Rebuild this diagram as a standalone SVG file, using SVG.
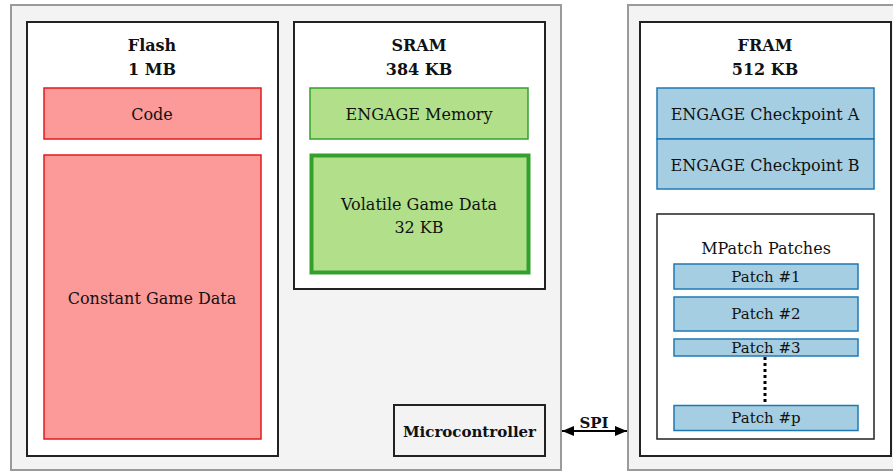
<svg xmlns="http://www.w3.org/2000/svg" width="893" height="472" viewBox="0 0 893 472">
<style>
text{font-family:"DejaVu Serif","Liberation Serif",serif;font-size:16px;fill:#111;text-anchor:middle}
.b{font-weight:bold}
.s{font-size:15px}
.outer{fill:#f3f3f3;stroke:#9a9a9a;stroke-width:2}
.mem{fill:#fff;stroke:#222;stroke-width:2}
.red{fill:#fb9a99;stroke:#e31a1c;stroke-width:1.5}
.green{fill:#b2df8a;stroke:#33a02c;stroke-width:1.5}
.blue{fill:#a6cee3;stroke:#1f78b4;stroke-width:1.5}
</style>
<defs>
<marker id="ah" viewBox="0 0 12 10" refX="12" refY="5" markerWidth="6.5" markerHeight="5" orient="auto-start-reverse"><path d="M0,0 L12,5 L0,10 z" fill="#000"/></marker>
</defs>
<rect class="outer" x="11" y="5" width="550" height="465"/>
<rect class="outer" x="628" y="5" width="275" height="465"/>
<g id="flash">
<rect class="mem" x="27" y="22" width="251" height="434"/>
<text class="b" x="152" y="51">Flash</text>
<text class="b" x="152" y="75">1 MB</text>
</g>
<g id="code"><rect class="red" x="44" y="88" width="217" height="51"/><text x="152" y="120">Code</text></g>
<g id="constant"><rect class="red" x="44" y="155" width="217" height="284"/><text x="152" y="304">Constant Game Data</text></g>
<g id="sram">
<rect class="mem" x="294" y="22" width="251" height="267"/>
<text class="b" x="419" y="51">SRAM</text>
<text class="b" x="419" y="75">384 KB</text>
</g>
<g id="engage-memory"><rect class="green" x="310" y="88" width="218" height="51"/><text x="419" y="120">ENGAGE Memory</text></g>
<g id="volatile"><rect class="green" x="311.5" y="155.5" width="217" height="117" style="stroke-width:4"/><text x="419" y="210">Volatile Game Data</text><text x="419" y="233">32 KB</text></g>
<g id="microcontroller"><rect x="394" y="405" width="151" height="51" fill="none" stroke="#222" stroke-width="2"/><text class="b s" x="469.5" y="437">Microcontroller</text></g>
<g id="fram">
<rect class="mem" x="640" y="22" width="251" height="434"/>
<text class="b" x="765" y="51">FRAM</text>
<text class="b" x="765" y="75">512 KB</text>
</g>
<g id="checkpoint-a"><rect class="blue" x="657" y="88" width="217" height="51"/><text x="765" y="120">ENGAGE Checkpoint A</text></g>
<g id="checkpoint-b"><rect class="blue" x="657" y="139" width="217" height="50"/><text x="765" y="171">ENGAGE Checkpoint B</text></g>
<g id="mpatch"><rect x="657" y="214" width="217" height="225" fill="#fff" stroke="#222" stroke-width="1.5"/><text x="766" y="254">MPatch Patches</text></g>
<g id="patch1"><rect class="blue" x="674" y="264" width="184" height="25"/><text class="s" x="766" y="282">Patch #1</text></g>
<g id="patch2"><rect class="blue" x="674" y="297" width="184" height="34"/><text class="s" x="766" y="319">Patch #2</text></g>
<g id="patch3"><rect class="blue" x="674" y="339" width="184" height="17"/><text class="s" x="766" y="353">Patch #3</text></g>
<g id="patchp"><rect class="blue" x="674" y="405.5" width="184" height="25"/><text class="s" x="766" y="423">Patch #p</text></g>
<g id="connectors">
<line x1="765" y1="357" x2="765" y2="405" stroke="#000" stroke-width="3" stroke-dasharray="3,3"/>
<line x1="562" y1="431" x2="627" y2="431" stroke="#000" stroke-width="2" marker-start="url(#ah)" marker-end="url(#ah)"/>
<text class="b s" x="594" y="428">SPI</text>
</g>
</svg>
